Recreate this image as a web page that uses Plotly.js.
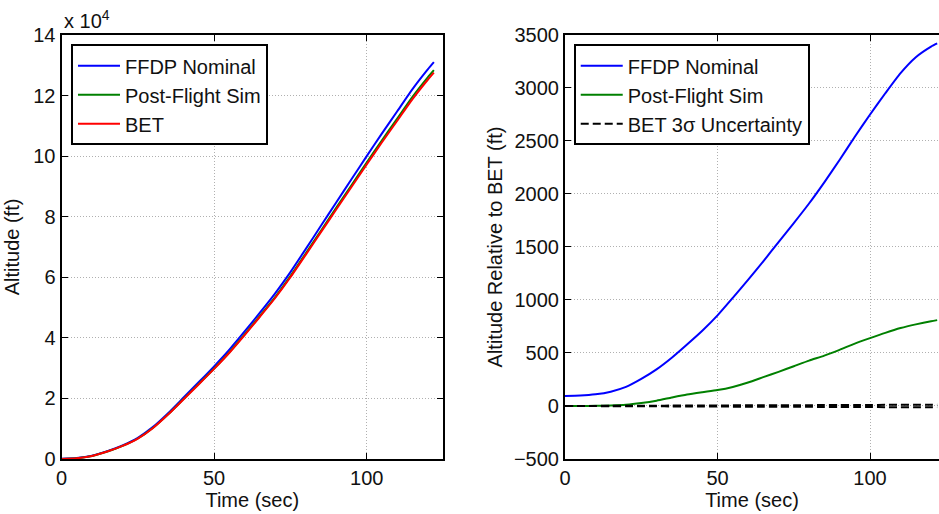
<!DOCTYPE html>
<html>
<head>
<meta charset="utf-8">
<script src="https://cdn.plot.ly/plotly-3.0.1.min.js"></script>
<style>html,body{margin:0;padding:0;background:#fff;}#chart{width:939px;height:514px;}</style>
</head>
<body>
<div id="chart"></div>
<script>
// Time (sec)
const time = [0,5,10,15,20,25,30,35,40,45,50,55,60,65,70,75,80,85,90,95,100,105,110,115,120,122];

// Left panel: absolute altitude (ft)
const altFFDP = [95,350,1100,2600,4500,7000,10600,15200,20300,25400,30600,36100,42100,48300,54700,61700,69300,77000,84700,92350,100000,107500,114800,122100,128600,131000];
const altPostFlight = [0,250,992,2470,4327,6768,10300,14820,19830,24830,29900,35250,41125,47235,53475,60375,67825,75355,82910,90395,97895,105250,112405,119580,126010,128390];
const altBET = [0,250,990,2465,4315,6740,10250,14740,19720,24700,29750,35070,40900,46960,53155,60000,67400,74885,82380,89805,97255,104560,111670,118810,125210,127580];

// Right panel: altitude relative to BET (ft)
const relFFDP = [94,98,110,135,180,255,345,455,580,710,855,1020,1190,1365,1545,1725,1910,2110,2320,2540,2750,2950,3140,3290,3390,3420];
const relPostFlight = [0,0,2,5,12,28,50,80,108,130,150,180,222,272,322,375,428,475,530,588,640,690,735,770,800,810];
const bet3sigUpper = [0,1,1,2,2,3,3,4,4,5,5,6,6,7,7,8,8,9,9,10,10,11,11,12,12,13];
const bet3sigLower = [0,-1,-1,-2,-2,-3,-3,-4,-4,-5,-5,-6,-6,-7,-7,-8,-8,-9,-9,-10,-10,-11,-11,-12,-12,-13];

// Tick labels
const leftYTickVals = [0,20000,40000,60000,80000,100000,120000,140000];
const leftYTickText = ['0','2','4','6','8','10','12','14'];
const xTickVals = [0,50,100];
const rightYTickVals = [-500,0,500,1000,1500,2000,2500,3000,3500];

const names = ['FFDP Nominal','Post-Flight Sim','BET','BET 3σ Uncertainty'];
const BLUE = '#0000ff', GREEN = '#008000', RED = '#ff0000', BLACK = '#000000';
const FONT = 'Liberation Sans, Arial, Helvetica, sans-serif';

function ln(color, dash) {
  const o = {color: color, width: 2, shape: 'spline', smoothing: 0.6};
  if (dash) o.dash = dash;
  return o;
}

const traces = [
  {x: time, y: altFFDP, type:'scatter', mode:'lines', name: names[0], line: ln(BLUE), xaxis:'x', yaxis:'y', legend:'legend'},
  {x: time, y: altPostFlight, type:'scatter', mode:'lines', name: names[1], line: ln(GREEN), xaxis:'x', yaxis:'y', legend:'legend'},
  {x: time, y: altBET, type:'scatter', mode:'lines', name: names[2], line: ln(RED), xaxis:'x', yaxis:'y', legend:'legend'},
  {x: time, y: relFFDP, type:'scatter', mode:'lines', name: names[0], line: ln(BLUE), xaxis:'x2', yaxis:'y2', legend:'legend2'},
  {x: time, y: relPostFlight, type:'scatter', mode:'lines', name: names[1], line: ln(GREEN), xaxis:'x2', yaxis:'y2', legend:'legend2'},
  {x: time, y: bet3sigUpper, type:'scatter', mode:'lines', name: names[3], line: ln(BLACK, '8px,4px'), xaxis:'x2', yaxis:'y2', legend:'legend2'},
  {x: time, y: bet3sigLower, type:'scatter', mode:'lines', name: names[3], showlegend:false, line: ln(BLACK, '8px,4px'), xaxis:'x2', yaxis:'y2', legend:'legend2'}
];

const tickFont = {family: FONT, size: 20, color: '#111'};
const axisBase = {
  showline: true, linecolor: BLACK, linewidth: 2,
  ticks: 'inside', ticklen: 6, tickwidth: 1, tickcolor: BLACK,
  showgrid: true, gridcolor: '#b0b0b0', gridwidth: 1, griddash: '1px,2px',
  zeroline: false, tickfont: tickFont, automargin: false
};
const titleFont = {family:FONT, size:20, color:'#111'};

const layout = {
  width: 939, height: 514,
  margin: {l:0, r:0, t:0, b:0},
  paper_bgcolor: '#fff', plot_bgcolor: '#fff',
  font: {family: FONT, size: 20, color: '#111'},
  showlegend: true,
  xaxis: Object.assign({}, axisBase, {domain:[0.0655, 0.4718], range:[0,125], tickvals: xTickVals, mirror:'ticks', anchor:'y',
    title:{text:'Time (sec)', font: titleFont, standoff: 2}}),
  yaxis: Object.assign({}, axisBase, {domain:[0.107, 0.932], range:[0,140000], tickvals: leftYTickVals, ticktext: leftYTickText, mirror:'ticks', anchor:'x',
    title:{text:'Altitude (ft)', font: titleFont, standoff: 8}}),
  xaxis2: Object.assign({}, axisBase, {domain:[0.6017, 1], range:[0,122.6], tickvals: xTickVals, mirror:'ticks', anchor:'y2',
    title:{text:'Time (sec)', font: titleFont, standoff: 2}}),
  yaxis2: Object.assign({}, axisBase, {domain:[0.107, 0.932], range:[-500,3500], tickvals: rightYTickVals, mirror:false, anchor:'x2',
    title:{text:'Altitude Relative to BET (ft)', font: titleFont, standoff: 6}}),
  legend: {x: 0.0756, y: 0.914, xanchor:'left', yanchor:'top', bgcolor:'#fff', bordercolor: BLACK, borderwidth: 2,
    font:{family:FONT, size:20, color:'#111'}, tracegroupgap: 0, itemwidth: 42},
  legend2: {x: 0.611, y: 0.914, xanchor:'left', yanchor:'top', bgcolor:'#fff', bordercolor: BLACK, borderwidth: 2,
    font:{family:FONT, size:20, color:'#111'}, tracegroupgap: 0, itemwidth: 42},
  annotations: [
    {text:'x 10<sup>4</sup>', xref:'paper', yref:'paper', x: 0.0655, y: 0.99, xanchor:'left', yanchor:'top', showarrow:false,
     font:{family:FONT, size:20, color:'#111'}}
  ]
};

Plotly.newPlot('chart', traces, layout, {displayModeBar:false, staticPlot:true});
</script>
</body>
</html>
